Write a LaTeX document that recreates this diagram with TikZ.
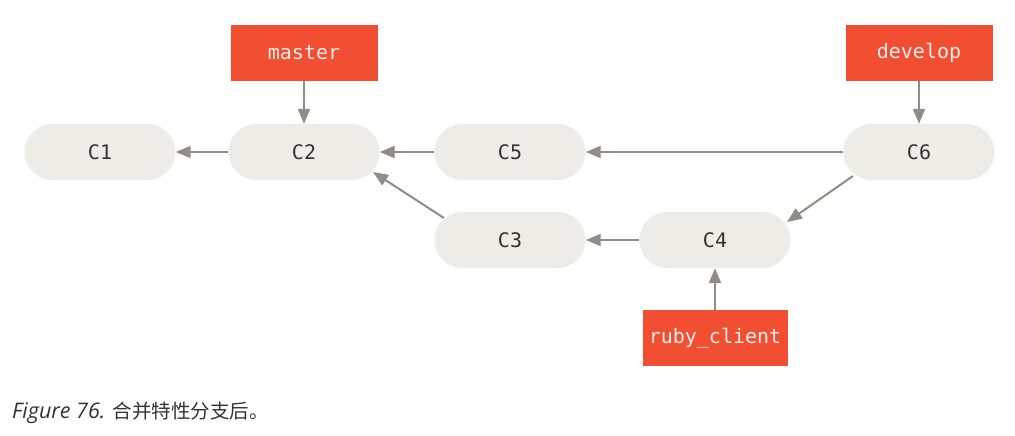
\documentclass[tikz,border=0pt]{standalone}
\usepackage{fontspec}
\setmonofont{DejaVu Sans Mono}
\setsansfont{Open Sans}
\newfontfamily\cjkfont{Noto Sans CJK SC}
\usetikzlibrary{arrows.meta,calc}
\definecolor{commitfill}{HTML}{EDECE6}
\definecolor{reffill}{HTML}{F14E32}
\definecolor{linkgray}{HTML}{918C85}
\definecolor{commitText}{HTML}{333333}
\definecolor{refText}{HTML}{F2EEEA}
\definecolor{captionText}{HTML}{333333}
\begin{document}
\begin{tikzpicture}[x=1pt,y=-1pt,
  commit/.style={rectangle,rounded corners=28pt,fill=commitfill,
    minimum width=151pt,minimum height=56pt,inner sep=0pt,
    font=\ttfamily\fontsize{20}{24}\selectfont,text=commitText},
  branchref/.style={rectangle,fill=reffill,
    minimum width=147pt,minimum height=56pt,inner sep=0pt,
    font=\ttfamily\fontsize{20}{24}\selectfont,text=refText},
  link/.style={draw=linkgray,line width=2pt,
    -{Triangle[length=15pt,width=12pt]}}]
\useasboundingbox[fill=white] (0,0) rectangle (1015,436);

% commits
\node[commit] (C1) at (100,152) {C1};
\node[commit] (C2) at (304,152) {C2};
\node[commit] (C5) at (510,152) {C5};
\node[commit] (C6) at (919,152) {C6};
\node[commit] (C3) at (510,240) {C3};
\node[commit] (C4) at (715,240) {C4};

% branch references
\node[branchref] (master) at (304,53) {master};
\node[branchref] (develop) at (919,53) {develop};
\node[branchref,minimum width=145pt] (ruby) at (715,338) {ruby\_client};

% parent links
\draw[link] (C2.west) -- (C1.east);
\draw[link] (C5.west) -- (C2.east);
\draw[link] (C6.west) -- (C5.east);
\draw[link] (C4.west) -- (C3.east);
\draw[link] ($(C3.center)+(-66,-22)$) -- ($(C2.center)+(69,20)$);
\draw[link] ($(C6.center)+(-66,24)$) -- ($(C4.center)+(72,-18)$);

% branch pointers
\draw[link] (master.south) -- (C2.north);
\draw[link] (develop.south) -- (C6.north);
\draw[link] (ruby.north) -- (C4.south);

% caption
\node[anchor=base west,inner sep=0pt,text=captionText] (caption) at (12,418)
  {{\sffamily\itshape\fontsize{21.5}{26}\selectfont Figure 76. }{\cjkfont\fontsize{19.5}{24}\selectfont 合并特性分支后。}};
\end{tikzpicture}
\end{document}
